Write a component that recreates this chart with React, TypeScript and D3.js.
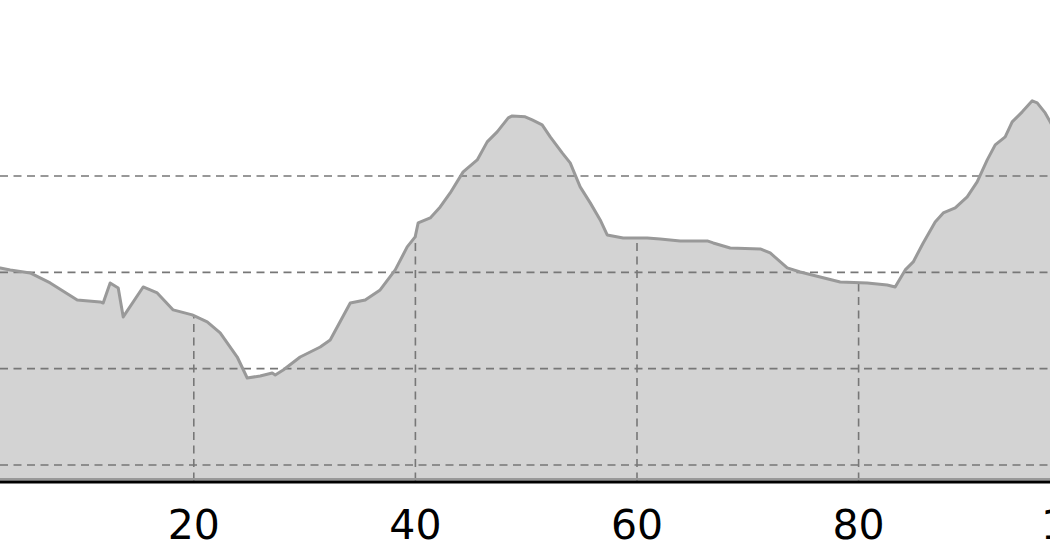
import React from "react";
import * as d3 from "d3";

const distance = [0, 2.53, 3.43, 5.23, 7.04, 9.48, 11.55, 11.82, 12.45, 13.18, 13.63, 15.43, 16.7, 18.14, 19.86, 21.21, 22.38, 23.92, 24.82, 25.99, 27.08, 27.35, 28.07, 29.6, 31.41, 32.31, 34.12, 35.47, 36.82, 38.18, 39.26, 39.98, 40.25, 41.34, 42.24, 43.14, 44.31, 45.58, 46.48, 47.38, 48.38, 48.74, 49.91, 50.54, 51.44, 52.17, 53.25, 53.97, 54.87, 55.78, 56.68, 57.31, 58.75, 60.92, 62.09, 63.9, 66.34, 66.88, 68.41, 71.12, 72.02, 73.56, 74.73, 76.53, 78.34, 80.78, 82.58, 83.3, 84.21, 84.93, 85.83, 86.91, 87.64, 88.72, 89.8, 90.7, 91.61, 92.33, 93.23, 93.86, 94.77, 95.67, 96.12, 96.84, 97.29, 98.19];
const elevation = [407, 404.6, 402.5, 399.4, 389.0, 371.3, 369.3, 368.2, 389.0, 383.8, 353.7, 384.8, 378.6, 361.0, 355.8, 348.5, 337.1, 312.1, 290.3, 292.4, 295.5, 293.5, 298.6, 312.1, 322.5, 329.8, 368.2, 371.3, 381.7, 402.5, 426.4, 436.8, 451.3, 456.5, 467.9, 482.4, 504.3, 516.7, 535.4, 545.8, 560.3, 562.4, 561.4, 558.2, 553.1, 540.6, 524.0, 513.6, 488.7, 472.1, 454.4, 438.8, 435.7, 435.7, 434.7, 432.6, 432.6, 430.5, 425.3, 424.3, 420.1, 404.6, 400.4, 395.2, 390.0, 389.0, 386.9, 384.8, 402.5, 410.8, 430.5, 452.3, 461.7, 466.9, 478.3, 493.9, 516.7, 532.3, 540.6, 556.2, 566.6, 578.0, 575.9, 565.5, 556.2, 537.5];
const xTicks = [20, 40, 60, 80, 100];
const yGrid = [200, 300, 400, 500];
const yBase = 182.3;

const W = 1050;
const H = 560;

export default function App() {
  const x = d3.scaleLinear().domain([0, 100]).range([-27.8, 1080.2]);
  const y = d3.scaleLinear().domain([200, 500]).range([465, 176]);
  const pts = distance.map((d, i) => [d, elevation[i]] as [number, number]);
  const base = y(yBase);
  const area = d3
    .area<[number, number]>()
    .x((d) => x(d[0]))
    .y0(base)
    .y1((d) => y(d[1]))(pts) as string;
  const line = d3
    .line<[number, number]>()
    .x((d) => x(d[0]))
    .y((d) => y(d[1]))(pts) as string;

  return (
    <svg
      width={W}
      height={H}
      style={{ position: "absolute", left: 0, top: 0, display: "block", background: "#fff" }}
    >
      <defs>
        <clipPath id="areaClip">
          <path d={area} />
        </clipPath>
      </defs>
      <path d={area} fill="#d3d3d3" />
      <g clipPath="url(#areaClip)">
        {xTicks.map((t) => (
          <line
            key={t}
            x1={x(t)}
            x2={x(t)}
            y1={0}
            y2={base}
            stroke="#777"
            strokeWidth={1.6}
            strokeDasharray="8,5.5"
          />
        ))}
      </g>
      {yGrid.map((g) => (
        <line
          key={g}
          x1={0}
          x2={W}
          y1={y(g)}
          y2={y(g)}
          stroke="#777"
          strokeWidth={1.6}
          strokeDasharray="8,5.5"
        />
      ))}
      <path d={line} fill="none" stroke="#999" strokeWidth={3} strokeLinejoin="round" />
      <line x1={0} x2={W} y1={base - 3} y2={base - 3} stroke="#999" strokeWidth={2} />
      <line x1={0} x2={W} y1={base} y2={base} stroke="#000" strokeWidth={3} />
      {xTicks.map((t) => (
        <text
          key={t}
          x={x(t)}
          y={539}
          textAnchor="middle"
          fontFamily="DejaVu Sans"
          fontSize={41}
          fill="#000"
        >
          {t}
        </text>
      ))}
    </svg>
  );
}
